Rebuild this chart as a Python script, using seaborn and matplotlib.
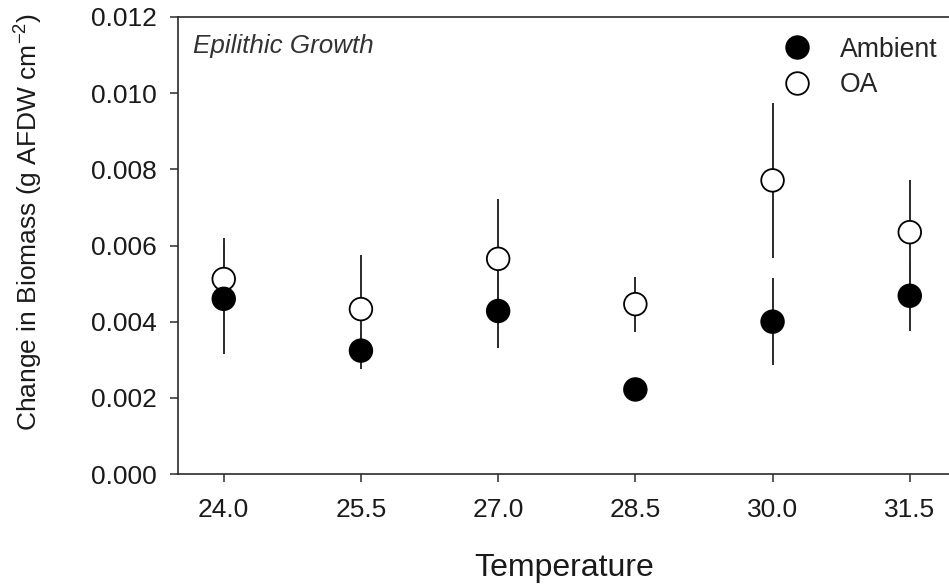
import matplotlib
matplotlib.use("Agg")
import matplotlib.pyplot as plt
import seaborn as sns
import pandas as pd

temps = [24.0, 25.5, 27.0, 28.5, 30.0, 31.5]
ambient_mean = [0.00460, 0.00324, 0.00428, 0.00222, 0.00400, 0.00468]
ambient_se = [0.00145, 0.00047, 0.00096, 0.00012, 0.00115, 0.00092]
oa_mean = [0.00512, 0.00433, 0.00565, 0.00446, 0.00771, 0.00635]
oa_se = [0.00108, 0.00142, 0.00157, 0.00072, 0.00203, 0.00136]
xticks = [24.0, 25.5, 27.0, 28.5, 30.0, 31.5]
yticks = [0.000, 0.002, 0.004, 0.006, 0.008, 0.010, 0.012]

sns.set_style("ticks")
plt.rcParams['font.family'] = ['Liberation Sans', 'DejaVu Sans']
plt.rcParams['mathtext.fontset'] = 'custom'
plt.rcParams['mathtext.rm'] = 'Liberation Sans'
plt.rcParams['mathtext.it'] = 'Liberation Sans:italic'

df = pd.DataFrame({
    'Temperature': temps + temps,
    'Biomass': oa_mean + ambient_mean,
    'SE': oa_se + ambient_se,
    'Treatment': ['OA'] * len(temps) + ['Ambient'] * len(temps),
})

W, H = 949, 588
fig = plt.figure(figsize=(W / 100, H / 100), dpi=100)
ax = fig.add_axes([178 / W, 1 - 474 / H, 777.5 / W, 457 / H])

ink = '#2b2b2b'
text_c = '#1a1a1a'
for trt in ['OA', 'Ambient']:
    sub = df[df['Treatment'] == trt]
    ax.errorbar(sub['Temperature'], sub['Biomass'], yerr=sub['SE'], fmt='none',
                ecolor=ink, elinewidth=1.4, capsize=0, zorder=2)

sns.scatterplot(data=df, x='Temperature', y='Biomass', hue='Treatment',
                hue_order=['Ambient', 'OA'],
                palette={'Ambient': 'black', 'OA': 'white'},
                edgecolor='black', linewidth=1.3, s=265, ax=ax, zorder=3)

ax.set_xlim(23.5, 32.0)
ax.set_ylim(0, 0.012)
ax.set_xticks(xticks)
ax.set_xticklabels([f"{t:.1f}" for t in xticks])
ax.set_yticks(yticks)
ax.set_yticklabels([f"{v:.3f}" for v in yticks])

for side in ['left', 'bottom', 'top']:
    ax.spines[side].set_color(ink)
    ax.spines[side].set_linewidth(1.2)
ax.spines['right'].set_visible(False)
ax.tick_params(axis='both', direction='out', length=6, width=1.1, color=ink,
               labelsize=19, labelcolor=text_c)
ax.tick_params(axis='y', pad=9.5)
ax.tick_params(axis='x', pad=11.5)

ax.set_xlabel('Temperature', fontsize=23, color=text_c)
ax.xaxis.label.set_va('center')
ax.xaxis.set_label_coords((564 - 178) / 777.5, (474 - 568) / 457)
ax.set_ylabel(r'Change in Biomass (g AFDW cm$^{-2}$)', fontsize=19, color=text_c)
ax.yaxis.label.set_va('center')
ax.yaxis.set_label_coords((29 - 178) / 777.5, (474 - 222) / 457)

ax.text(193 / W, 1 - 53 / H, 'Epilithic Growth', transform=fig.transFigure,
        fontsize=18.7, fontstyle='italic', color='#333333', va='baseline', ha='left')

leg = ax.legend(loc='upper left', bbox_to_anchor=(760 / W, 1 - 26 / H),
                bbox_transform=fig.transFigure, frameon=False, borderaxespad=0,
                fontsize=19.2, handletextpad=0.6, labelspacing=0.36, title=None,
                markerscale=1.0)

fig.savefig('out.png', dpi=100)
